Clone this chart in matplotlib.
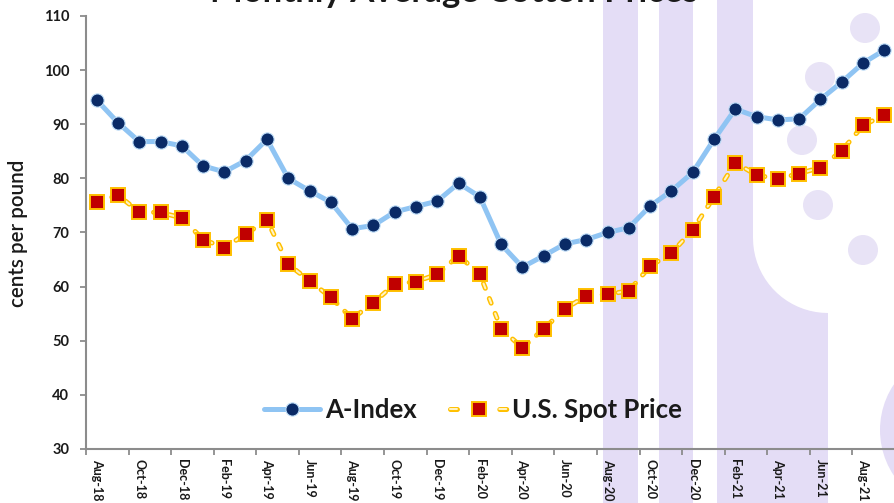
import numpy as np
import pandas as pd
import matplotlib
matplotlib.use("Agg")
import matplotlib.pyplot as plt
from matplotlib.patches import Rectangle, Circle, Polygon
from matplotlib.legend_handler import HandlerTuple

# monthly averages, cents per pound (Aug-18 .. Sep-21)
months = pd.date_range("2018-08-01", periods=38, freq="MS").strftime("%b-%y").tolist()

a_index = [94.5, 90.3, 86.8, 86.8, 86.0, 82.3, 81.2, 83.3, 87.2, 80.0,
           77.7, 75.6, 70.7, 71.3, 73.8, 74.8, 75.8, 79.1, 76.6, 67.8,
           63.6, 65.7, 67.9, 68.7, 70.0, 70.9, 74.9, 77.7, 81.1, 87.2,
           92.8, 91.4, 90.8, 91.0, 94.6, 97.8, 101.3, 103.7]

spot_price = [75.6, 76.9, 73.8, 73.7, 72.7, 68.7, 67.2, 69.7, 72.3, 64.1,
              61.1, 58.0, 54.1, 57.0, 60.5, 60.9, 62.3, 65.7, 62.3, 52.2,
              48.7, 52.2, 55.9, 58.3, 58.6, 59.2, 63.8, 66.2, 70.5, 76.6,
              82.9, 80.6, 79.9, 80.9, 82.0, 85.1, 89.8, 91.7]

y_ticks = [30, 40, 50, 60, 70, 80, 90, 100, 110]

plt.rcParams['font.family'] = ['Lato', 'DejaVu Sans']
plt.rcParams['lines.scale_dashes'] = False

W, H = 895, 503
fig = plt.figure(figsize=(W / 100, H / 100), dpi=100)

# faint logo watermark behind the chart (pixel coords)
bg = fig.add_axes([0, 0, 1, 1], zorder=0)
bg.set_xlim(0, W)
bg.set_ylim(H, 0)
bg.axis('off')
wm = '#e4ddf6'
bg.add_patch(Rectangle((603, 0), 35, H, color=wm, lw=0))
bg.add_patch(Rectangle((659, 0), 34, H, color=wm, lw=0))
arc_t = np.linspace(np.pi, np.pi / 2, 20)
arc = [(828 + 75 * np.cos(t), 238 + 75 * np.sin(t)) for t in arc_t]
u_shape = [(717, 0), (753, 0)] + arc + [(828, 313), (828, H), (717, H)]
bg.add_patch(Polygon(u_shape, closed=True, color=wm, lw=0))
bg.add_patch(Circle((962, 430), 82, color=wm, lw=0))
for cx, cy in [(865, 28), (820, 77), (802, 140), (818, 205), (863, 250), (912, 140)]:
    bg.add_patch(Circle((cx, cy), 15, color='#e8e3f6', lw=0))

ax = fig.add_axes([86 / W, 54 / H, 809 / W, 433 / H], zorder=1)
ax.patch.set_visible(False)

x = np.arange(len(months))

ax.plot(x, a_index, color='#8fc4f3', lw=3.6, solid_capstyle='round', zorder=2)
ax.plot(x, a_index, ls='none', marker='o', ms=9.5, mfc='#0a2a66',
        mec='#bcdcf7', mew=0.8, zorder=3)

dash = (3.6, 7.9)
ax.plot(x, spot_price, color='#ffc000', lw=3.6, dashes=dash,
        dash_capstyle='round', zorder=4)
ax.plot(x, spot_price, color='#fff3c4', lw=1.5, dashes=dash,
        dash_capstyle='round', zorder=4)
ax.plot(x, spot_price, ls='none', marker='s', ms=10, mfc='#c00000',
        mec='#ffc000', mew=1.4, zorder=5)

# legend handles (spot handle: one short dash each side of the marker)
ai_line, = ax.plot([], [], color='#8fc4f3', lw=3.6, solid_capstyle='round')
ai_mk, = ax.plot([], [], ls='none', marker='o', ms=9.5, mfc='#0a2a66',
                 mec='#bcdcf7', mew=0.8)
leg_dash = (5.0, 30.5)
sp_out, = ax.plot([], [], color='#ffc000', lw=3.6, dashes=leg_dash,
                  dash_capstyle='round')
sp_in, = ax.plot([], [], color='#fff3c4', lw=1.5, dashes=leg_dash,
                 dash_capstyle='round')
sp_mk, = ax.plot([], [], ls='none', marker='s', ms=10, mfc='#c00000',
                 mec='#ffc000', mew=1.4)
leg = ax.legend([(ai_line, ai_mk), (sp_out, sp_in, sp_mk)],
                ['A-Index', 'U.S. Spot Price'],
                handler_map={tuple: HandlerTuple(ndivide=1, pad=0)},
                loc='center', bbox_to_anchor=(0.478, 0.09), ncol=2,
                frameon=False, handlelength=2.2, columnspacing=1.3,
                handletextpad=0.2, prop={'size': 18.5, 'weight': 'bold'})
for t in leg.get_texts():
    t.set_color('#1a1a1a')

ax.set_xlim(-0.5, 37.33)
ax.set_ylim(30, 110)
ax.set_yticks(y_ticks)

# tick marks between categories, labels centred on every other month
ax.set_xticks(np.arange(-0.5, len(months), 2))
ax.set_xticklabels([])
ax.set_xticks(x[::2], minor=True)
ax.set_xticklabels(months[::2], minor=True, rotation=-90,
                   fontsize=9, fontweight='bold', color='#1a1a1a')
ax.tick_params(axis='x', which='major', length=4, width=1.3, color='#8c8c8c')
ax.tick_params(axis='x', which='minor', length=0, pad=7)
ax.tick_params(axis='y', length=4, width=1.3, color='#8c8c8c', pad=8,
               labelsize=10.5, labelcolor='#1a1a1a')
for lbl in ax.get_yticklabels():
    lbl.set_fontweight('bold')

for side in ['top', 'right']:
    ax.spines[side].set_visible(False)
for side in ['left', 'bottom']:
    ax.spines[side].set_color('#8c8c8c')
    ax.spines[side].set_linewidth(1.5)

fig.text(18 / W, (H - 233) / H, 'cents per pound', rotation=90, ha='center',
         va='center', fontsize=14.8, fontweight='semibold', color='#1a1a1a')

# title sits mostly above the visible area, as in the cropped original
fig.text(454 / W, 1 - 2.5 / H, 'Monthly Average Cotton Prices', ha='center',
         va='baseline', fontsize=25, fontweight='bold', color='#1a1a1a')

fig.savefig('out.png', dpi=100)
